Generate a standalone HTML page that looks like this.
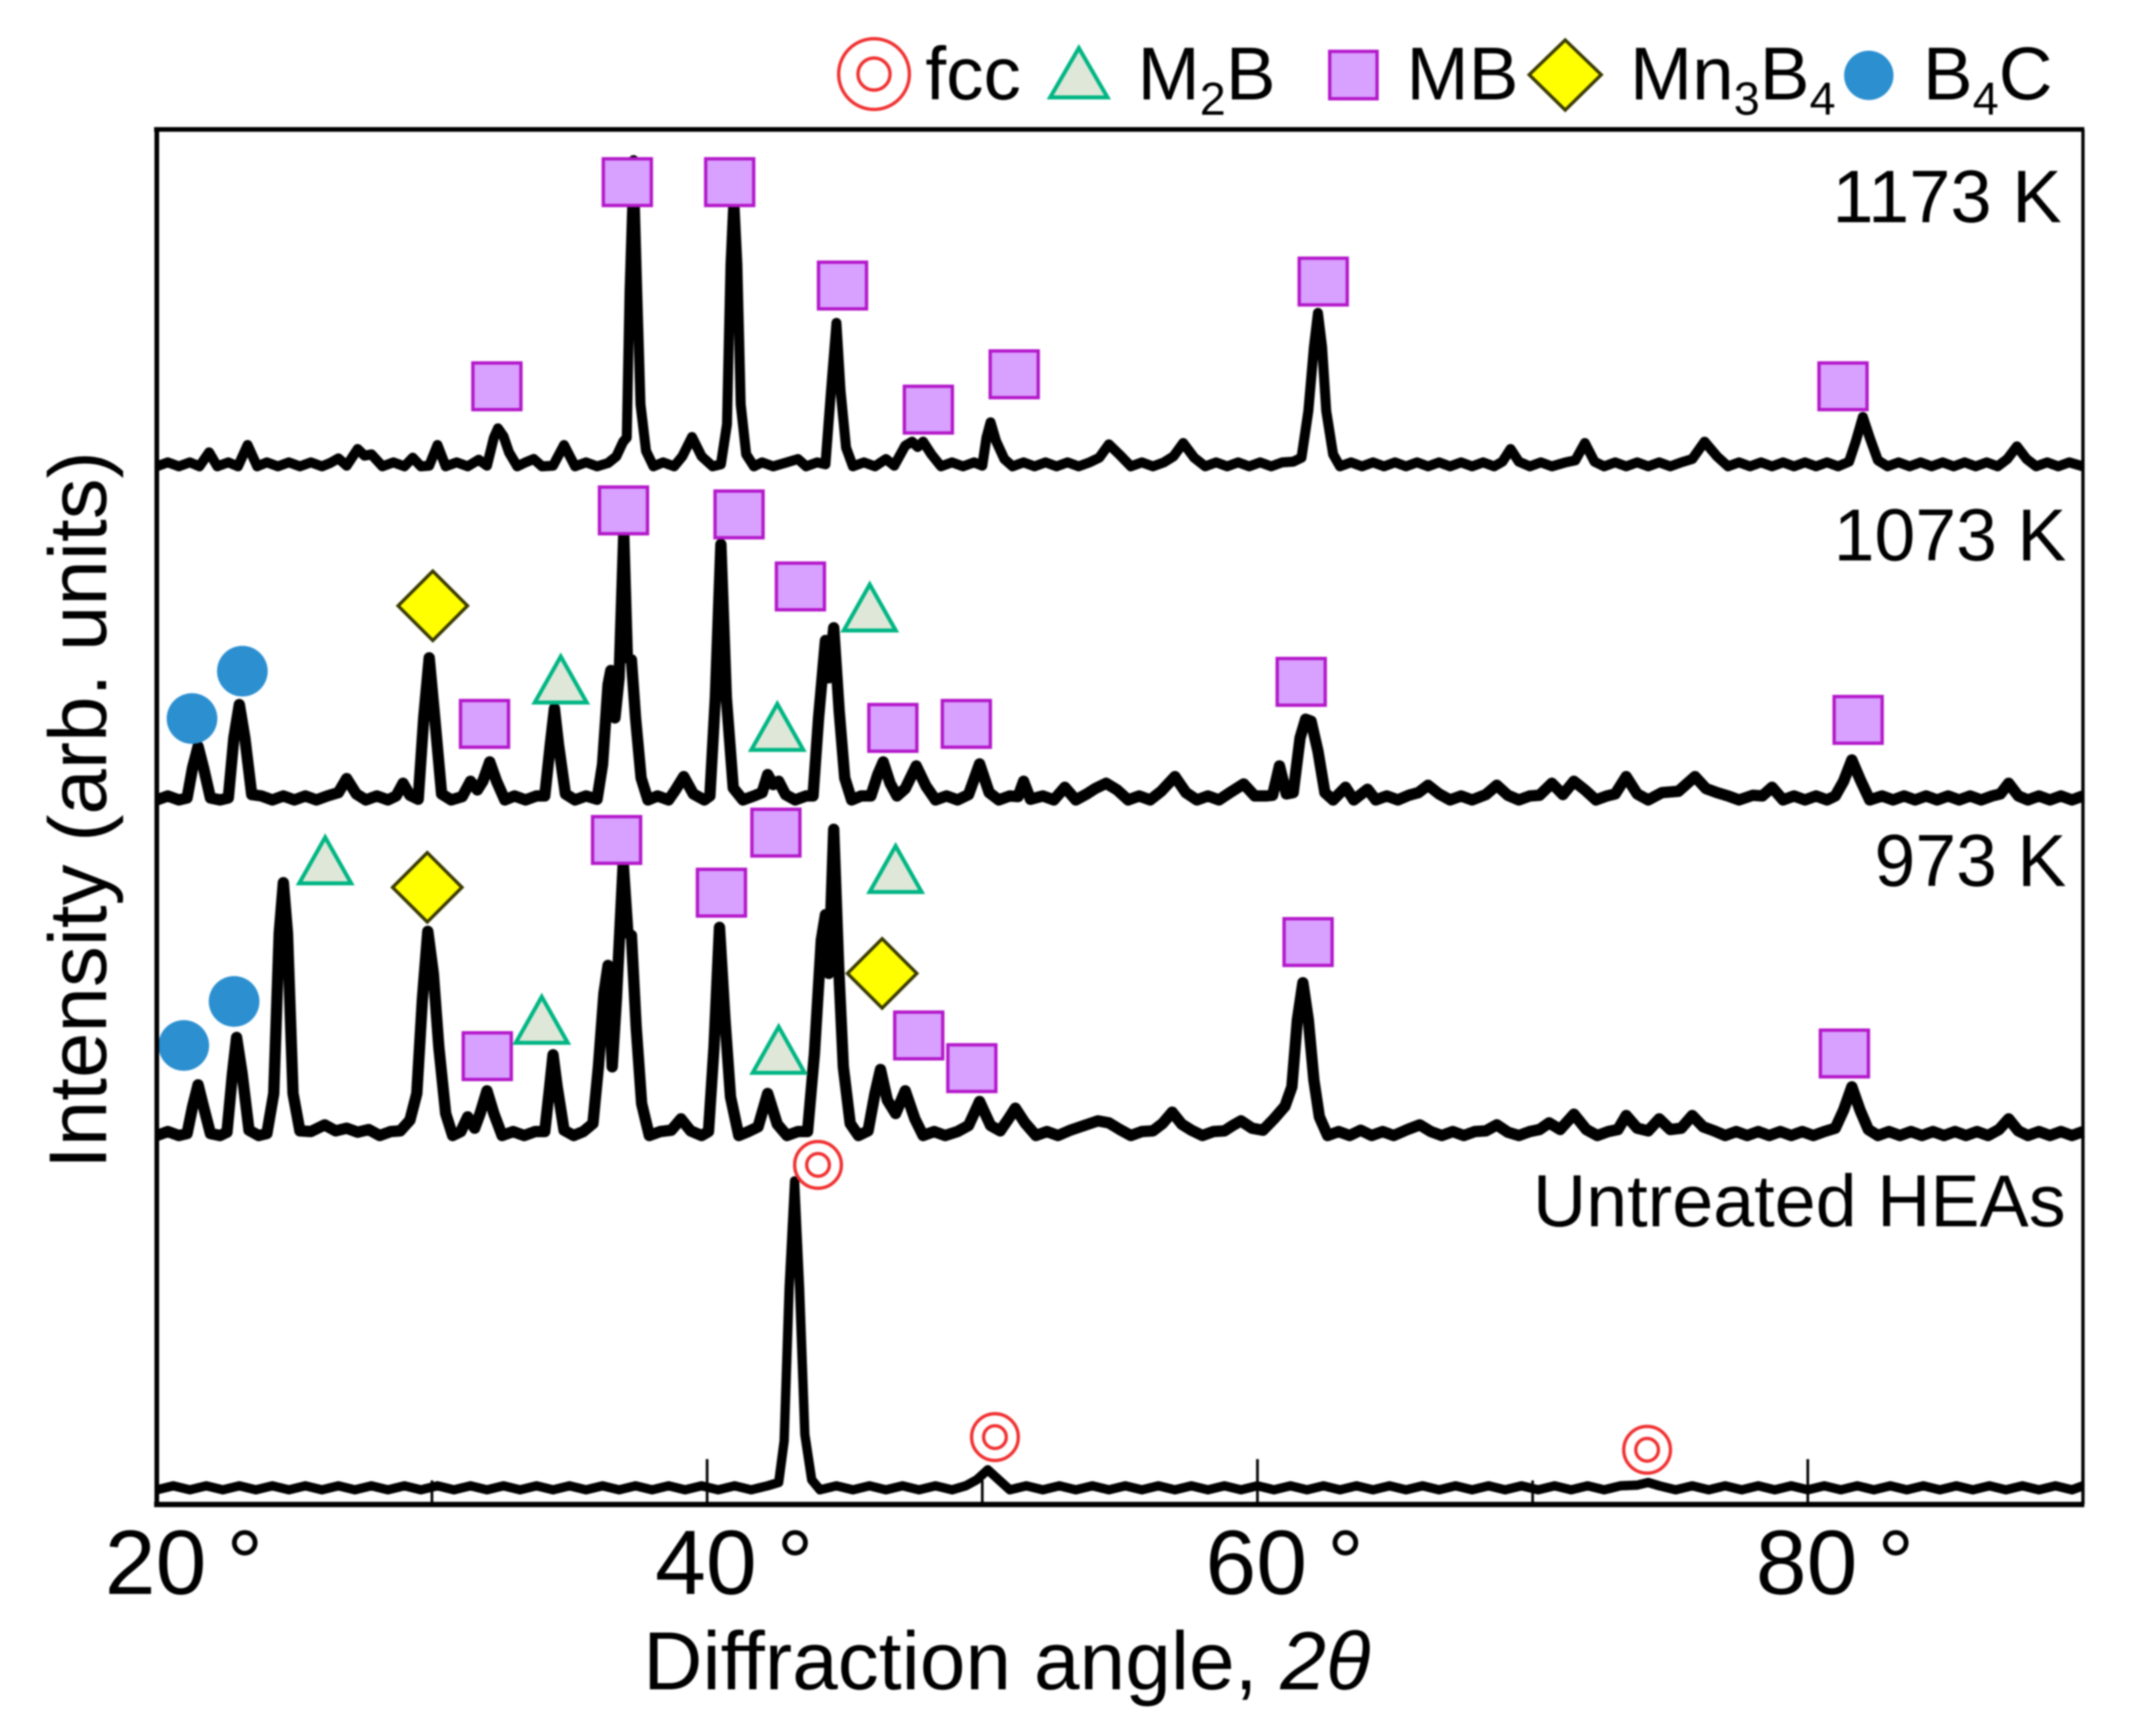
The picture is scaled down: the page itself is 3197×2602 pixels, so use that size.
<!DOCTYPE html>
<html lang="en">
<head>
<meta charset="utf-8">
<title>X-ray diffraction patterns</title>
<style>
html,body{margin:0;padding:0;background:#fff;width:3197px;height:2602px;overflow:hidden}
svg{display:block;filter:blur(1.3px)}
text{font-family:"Liberation Sans",sans-serif;fill:#000}
</style>
</head>
<body>
<svg id="chart" xmlns="http://www.w3.org/2000/svg" width="3197" height="2602" viewBox="0 0 3197 2602">
  <rect x="0" y="0" width="3197" height="2602" fill="#fff"/>

  <g id="marks"></g>
  <g id="axes"></g>

  <g>
    <g>
      <circle cx="1310" cy="111" r="53" fill="#fff" stroke="#f03030" stroke-width="5"/>
      <circle cx="1310" cy="111" r="24" fill="#fff" stroke="#f03030" stroke-width="5"/>
      <text x="1387" y="149" font-size="112">fcc</text>
    </g>
    <g>
      <polygon points="1617,72 1660,146 1574,146" fill="#dfe8d8" stroke="#00b583" stroke-width="6"/>
      <text x="1705" y="149" font-size="112">M<tspan font-size="70" dy="23">2</tspan><tspan dy="-23">B</tspan></text>
    </g>
    <g>
      <rect x="1993" y="77" width="71" height="71" fill="#d8a0ff" stroke="#b317c9" stroke-width="5"/>
      <text x="2108" y="149" font-size="112">MB</text>
    </g>
    <g>
      <polygon points="2346,60 2400,112 2346,165 2292,112" fill="#ffff00" stroke="#3a3a00" stroke-width="5"/>
      <text x="2443" y="149" font-size="112">Mn<tspan font-size="70" dy="23">3</tspan><tspan dy="-23">B</tspan><tspan font-size="70" dy="23">4</tspan></text>
    </g>
    <g>
      <circle cx="2801" cy="113" r="37" fill="#2b8fd0"/>
      <text x="2882" y="149" font-size="112">B<tspan font-size="70" dy="23">4</tspan><tspan dy="-23">C</tspan></text>
    </g>
  </g>

  <text x="3090" y="333" font-size="111" text-anchor="end">1173 K</text>
  <text x="3097" y="840" font-size="110" text-anchor="end">1073 K</text>
  <text x="3097" y="1328" font-size="110" text-anchor="end">973 K</text>
  <text x="3096" y="1838" font-size="110.5" text-anchor="end">Untreated HEAs</text>

  <text x="964" y="2532" font-size="123">Diffraction angle, <tspan font-style="italic">2θ</tspan></text>
  <text transform="translate(159,1752) rotate(-90)" font-size="122.5">Intensity (arb. units)</text>
</svg>

<script>
// ---------- chart data: [2θ in degrees, intensity in arbitrary units above the pattern's baseline] ----------
const pattern1173K = [[20,-3],[20.4,3],[20.8,-3],[21.2,3],[21.55,-3],[21.9,18],[22.2,-3],[22.6,3],[22.95,-3],[23.3,29],[23.65,-3],[24,3],[24.4,-3],[24.8,3],[25.2,-3],[25.6,3],[26,-3],[26.3,2],[26.6,9],[26.9,-2],[27.3,23],[27.55,13],[27.8,15],[28.2,-3],[28.6,3],[29,-3],[29.3,10],[29.6,-3],[29.9,-2],[30.2,29],[30.5,-3],[30.9,3],[31.3,-3],[31.7,7],[32,-2],[32.25,40],[32.4,54],[32.6,42],[32.8,18],[33.1,-3],[33.4,3],[33.7,8],[34,-3],[34.4,-2],[34.8,29],[35.2,-3],[35.6,3],[36,-3],[36.4,2],[36.7,12],[36.95,34],[37.08,40],[37.18,260],[37.33,456],[37.46,260],[37.58,90],[37.78,20],[38.05,-3],[38.4,3],[38.8,-3],[39.1,12],[39.45,41],[39.8,12],[40.2,-3],[40.5,0],[40.72,60],[40.85,300],[40.97,410],[41.1,300],[41.22,90],[41.42,15],[41.7,-3],[42,3],[42.4,-3],[42.9,3],[43.3,8],[43.6,-3],[44,3],[44.3,0],[44.5,110],[44.7,212],[44.85,110],[45.05,25],[45.3,-3],[45.7,3],[46.1,-3],[46.5,8],[46.8,-2],[47.2,28],[47.45,34],[47.65,26],[47.85,34],[48.15,15],[48.5,-3],[48.9,3],[49.3,-3],[49.7,3],[50,-2],[50.15,40],[50.3,63],[50.5,35],[50.8,8],[51.1,-3],[51.5,3],[51.9,-3],[52.3,3],[52.7,-3],[53.1,3],[53.5,-3],[53.9,3],[54.25,10],[54.6,30],[55,14],[55.4,-3],[55.8,3],[56.2,-3],[56.6,3],[56.95,12],[57.3,32],[57.7,10],[58.1,-3],[58.5,3],[58.9,-3],[59.3,3],[59.7,-3],[60.1,3],[60.5,-3],[60.9,3],[61.3,4],[61.6,10],[61.85,80],[62.05,176],[62.2,227],[62.35,176],[62.5,80],[62.75,15],[63,-3],[63.4,3],[63.8,-3],[64.2,3],[64.6,-3],[65,3],[65.4,-3],[65.8,3],[66.2,-3],[66.6,3],[67,-3],[67.4,3],[67.8,-3],[68.2,3],[68.6,-3],[68.9,4],[69.2,23],[69.5,4],[69.9,-3],[70.3,3],[70.7,-3],[71.2,3],[71.55,6],[71.9,32],[72.25,4],[72.6,-3],[73,3],[73.4,-3],[73.8,3],[74.2,-3],[74.6,3],[75,-3],[75.4,3],[75.8,8],[76.25,34],[76.7,12],[77.1,-3],[77.5,3],[77.9,-3],[78.3,3],[78.7,-3],[79.1,3],[79.5,-3],[79.9,3],[80.3,-3],[80.7,3],[81.1,-3],[81.5,4],[81.75,35],[82,71],[82.25,40],[82.55,6],[82.9,-3],[83.3,3],[83.7,-3],[84.1,3],[84.5,-3],[84.9,3],[85.3,-3],[85.7,3],[86.1,-3],[86.5,3],[86.9,-3],[87.25,8],[87.6,27],[87.95,8],[88.3,-3],[88.7,3],[89.1,-3],[89.5,3],[90,-3]];

const pattern1073K = [[20,-3],[20.4,3],[20.8,-3],[21.1,0],[21.3,45],[21.5,77],[21.7,45],[21.95,0],[22.3,-3],[22.6,0],[22.8,90],[23,140],[23.2,90],[23.45,5],[23.8,3],[24.2,-3],[24.6,3],[25,-3],[25.4,3],[25.8,-3],[26.2,3],[26.6,8],[26.9,29],[27.25,6],[27.6,-3],[28,3],[28.4,-3],[28.7,3],[28.95,22],[29.2,4],[29.5,-2],[29.7,120],[29.9,210],[30.1,120],[30.35,6],[30.7,-3],[31.1,2],[31.4,25],[31.65,12],[31.85,25],[32.1,54],[32.35,25],[32.65,-3],[33,3],[33.4,-3],[33.8,3],[34.1,3],[34.3,80],[34.45,134],[34.6,80],[34.85,6],[35.2,-3],[35.6,3],[36,-2],[36.2,50],[36.4,170],[36.5,191],[36.65,120],[36.8,180],[36.97,395],[37.1,210],[37.25,207],[37.4,120],[37.6,30],[37.85,-3],[38.2,3],[38.6,-3],[38.85,12],[39.15,32],[39.5,6],[39.9,-3],[40.1,3],[40.3,150],[40.5,380],[40.7,150],[40.95,15],[41.3,-3],[41.7,3],[42,8],[42.2,35],[42.4,20],[42.6,25],[42.85,5],[43.2,-3],[43.6,3],[43.85,3],[44.05,120],[44.3,236],[44.42,180],[44.6,255],[44.8,130],[45,30],[45.25,-3],[45.6,3],[45.95,3],[46.2,35],[46.4,54],[46.65,22],[46.9,3],[47.2,14],[47.6,48],[47.95,18],[48.3,-3],[48.7,3],[49.1,-3],[49.5,5],[49.9,51],[50.25,8],[50.6,-3],[51,3],[51.3,2],[51.5,25],[51.75,-2],[52.2,3],[52.6,-3],[53,16],[53.4,-3],[53.8,6],[54.1,14],[54.5,22],[54.9,12],[55.3,-3],[55.7,3],[56.1,-3],[56.5,10],[57,32],[57.4,8],[57.8,-3],[58.2,3],[58.6,-3],[59,8],[59.5,21],[59.9,3],[60.3,3],[60.55,4],[60.8,48],[61.05,6],[61.3,8],[61.55,90],[61.75,118],[61.95,115],[62.2,70],[62.45,8],[62.75,-3],[63.2,16],[63.5,-3],[64,13],[64.3,-3],[64.7,3],[65.1,-3],[65.5,4],[65.85,8],[66.2,19],[66.6,6],[67,-3],[67.4,3],[67.8,-3],[68.3,5],[68.7,19],[69.1,4],[69.5,-3],[69.9,3],[70.25,4],[70.7,22],[71.1,5],[71.5,25],[71.9,12],[72.3,-3],[72.7,3],[73,6],[73.4,32],[73.8,6],[74.2,-3],[74.7,8],[75.3,10],[75.9,32],[76.3,14],[76.7,8],[77.1,3],[77.5,-3],[78,4],[78.35,3],[78.7,16],[79.1,-3],[79.5,3],[79.9,-3],[80.3,3],[80.7,-3],[81,3],[81.3,25],[81.6,57],[81.9,28],[82.25,-3],[82.7,3],[83.1,-3],[83.5,3],[83.9,-3],[84.3,3],[84.7,-3],[85.1,3],[85.5,-3],[85.9,3],[86.3,-3],[86.7,3],[87,6],[87.3,22],[87.65,3],[88,-3],[88.4,3],[88.8,-3],[89.2,3],[89.6,-3],[90,3]];

const pattern973K = [[20,-3],[20.4,3],[20.8,-3],[21.1,0],[21.3,40],[21.5,73],[21.7,40],[21.95,0],[22.3,-3],[22.55,2],[22.75,90],[22.9,144],[23.1,90],[23.35,5],[23.7,-3],[24,0],[24.25,60],[24.45,300],[24.6,376],[24.75,300],[24.95,60],[25.2,4],[25.6,3],[26.1,13],[26.5,4],[26.9,8],[27.3,2],[27.7,6],[28.1,-3],[28.5,3],[28.85,4],[29.2,20],[29.45,60],[29.65,200],[29.85,303],[30.05,240],[30.25,130],[30.5,30],[30.75,-3],[31.05,3],[31.3,25],[31.55,8],[31.75,30],[32,64],[32.25,30],[32.55,-3],[32.95,3],[33.35,-3],[33.75,3],[34.1,3],[34.28,70],[34.4,118],[34.55,70],[34.8,5],[35.15,-3],[35.5,3],[35.85,15],[36.05,100],[36.25,210],[36.4,252],[36.55,100],[36.7,200],[36.95,405],[37.12,300],[37.25,297],[37.42,160],[37.62,45],[37.9,-3],[38.3,3],[38.7,5],[39.05,22],[39.4,4],[39.8,-3],[40.05,3],[40.25,130],[40.45,309],[40.65,170],[40.85,55],[41.15,-3],[41.5,3],[41.85,10],[42.2,60],[42.55,14],[42.9,-3],[43.3,3],[43.65,3],[43.9,120],[44.15,290],[44.3,328],[44.42,240],[44.6,456],[44.78,250],[44.95,100],[45.2,15],[45.5,-3],[45.85,4],[46.1,60],[46.3,96],[46.55,50],[46.85,30],[47.2,64],[47.55,22],[47.85,-3],[48.25,3],[48.65,-3],[49.1,3],[49.5,12],[49.9,48],[50.3,12],[50.65,4],[50.95,22],[51.2,38],[51.55,16],[51.95,-3],[52.35,3],[52.75,-3],[53.2,5],[53.7,12],[54.2,19],[54.6,16],[55,6],[55.4,-3],[55.8,3],[56.2,4],[56.55,15],[56.9,32],[57.25,14],[57.6,5],[58,-3],[58.4,3],[58.8,4],[59.1,12],[59.4,19],[59.8,8],[60.2,5],[60.6,22],[61,41],[61.25,70],[61.45,170],[61.65,226],[61.85,170],[62.05,80],[62.25,25],[62.55,-3],[62.95,3],[63.35,-3],[63.75,5],[64.15,-3],[64.55,3],[64.95,-3],[65.45,6],[65.9,13],[66.3,3],[66.7,-3],[67.1,3],[67.5,-3],[67.9,3],[68.3,4],[68.7,13],[69.1,2],[69.5,-3],[69.9,3],[70.25,6],[70.6,16],[71,6],[71.5,29],[71.95,6],[72.35,-3],[72.75,3],[73.1,6],[73.4,27],[73.8,8],[74.2,4],[74.6,22],[75,6],[75.4,8],[75.8,27],[76.2,10],[76.6,4],[77,-3],[77.4,3],[77.8,-3],[78.2,3],[78.6,-3],[79,3],[79.4,-3],[79.8,3],[80.2,-3],[80.6,3],[81,8],[81.3,35],[81.6,70],[81.9,35],[82.2,6],[82.55,-3],[82.95,3],[83.35,-3],[83.75,3],[84.15,-3],[84.55,3],[84.95,-3],[85.35,3],[85.75,-3],[86.15,3],[86.55,-3],[86.95,6],[87.3,22],[87.65,4],[88,-3],[88.4,3],[88.8,-3],[89.2,3],[89.6,-3],[90,3]];

const patternUntreated = [[20,-3],[20.6,3],[21.2,-3],[21.8,3],[22.4,-3],[23,3],[23.6,-3],[24.2,3],[24.8,-3],[25.4,3],[26,-3],[26.6,3],[27.2,-3],[27.8,3],[28.4,-3],[29,3],[29.6,-3],[30.2,3],[30.8,-3],[31.4,3],[32,-3],[32.6,3],[33.2,-3],[33.8,3],[34.4,-3],[35,3],[35.6,-3],[36.2,3],[36.8,-3],[37.4,3],[38,-3],[38.6,3],[39.2,-3],[39.8,3],[40.4,-3],[41,3],[41.6,-3],[42.2,3],[42.6,8],[42.8,70],[42.98,300],[43.18,460],[43.36,300],[43.55,80],[43.8,12],[44.1,-3],[44.7,3],[45.3,-3],[45.9,3],[46.5,-3],[47.1,3],[47.7,-3],[48.3,3],[48.9,-3],[49.4,3],[49.8,12],[50.2,27],[50.6,12],[51,-3],[51.6,3],[52.2,-3],[52.8,3],[53.4,-3],[54,3],[54.6,-3],[55.2,3],[55.8,-3],[56.4,3],[57,-3],[57.6,3],[58.2,-3],[58.8,3],[59.4,-3],[60,3],[60.6,-3],[61.2,3],[61.8,-3],[62.4,3],[63,-3],[63.6,3],[64.2,-3],[64.8,3],[65.4,-3],[66,3],[66.6,-3],[67.2,3],[67.8,-3],[68.4,3],[69,-3],[69.6,3],[70.2,-3],[70.8,3],[71.4,-3],[72,3],[72.6,-3],[73.2,3],[73.8,4],[74.2,8],[74.6,3],[75.2,-3],[75.8,3],[76.4,-3],[77,3],[77.6,-3],[78.2,3],[78.8,-3],[79.4,3],[80,-3],[80.6,3],[81.2,-3],[81.8,3],[82.4,-3],[83,3],[83.6,-3],[84.2,3],[84.8,-3],[85.4,3],[86,-3],[86.6,3],[87.2,-3],[87.8,3],[88.4,-3],[89,3],[89.6,-3],[90,3]];

// ---------- phase markers: [2θ, height above the pattern's baseline] ----------
const mbMarkers1173K = [[37.10,423],[40.82,423],[44.92,268],[32.36,117],[48.04,82],[51.16,135],[62.39,274],[81.28,117]];
const mbMarkers1073K = [[36.96,429],[41.16,423],[43.39,315],[31.91,109],[46.75,103],[49.42,109],[61.59,172],[81.83,115]];
const m2bMarkers1073K = [[45.91,282],[34.68,174],[42.55,103]];
const mn3b4Markers1073K = [[30.03,286]];
const b4cMarkers1073K = [[21.28,117],[23.11,188]];
const mbMarkers973K = [[36.71,439],[42.50,450],[40.52,360],[32.01,115],[47.69,146],[49.62,97],[61.84,286],[81.33,119]];
const m2bMarkers973K = [[26.12,407],[46.85,394],[33.99,168],[42.60,123]];
const mn3b4Markers973K = [[29.83,368],[46.36,239]];
const b4cMarkers973K = [[20.98,131],[22.81,197]];
const fccMarkersUntreated = [[44.03,483],[50.46,75],[74.16,56]];

// ---------- axis values ----------
const xMajorTicks = [40,60,80];
const xMinorTicks = [30,50,70];
const xLabelTicks = [20,40,60,80];
const xTickLabels = ['20 °','40 °','60 °','80 °'];

// ---------- axis functions ----------
const PLOT = {left:235,right:3122,top:194,bottom:2255};
const X_MIN = 20, X_MAX = 90;
function xScale(v){ return PLOT.left + (v - X_MIN) * (PLOT.right - PLOT.left) / (X_MAX - X_MIN); }
function yScale(baseline, v){ return baseline - v; }

const SVGNS = 'http://www.w3.org/2000/svg';
const marks = document.getElementById('marks');
const axes = document.getElementById('axes');
function make(tag, attrs, parent){
  const el = document.createElementNS(SVGNS, tag);
  for (const k in attrs) el.setAttribute(k, attrs[k]);
  parent.appendChild(el);
  return el;
}

// ---------- series lines ----------
function drawPattern(points, baseline, width, name){
  const d = points.map(function(p, i){
    return (i ? 'L' : 'M') + xScale(p[0]).toFixed(1) + ' ' + yScale(baseline, p[1]).toFixed(1);
  }).join('');
  const el = make('path', {d:d, fill:'none', stroke:'#000', 'stroke-width':width, 'stroke-linejoin':'round', 'stroke-linecap':'butt'}, marks);
  
  
}
drawPattern(pattern1173K, 696, 15, 'pattern-line-1173k');
drawPattern(pattern1073K, 1196, 17, 'pattern-line-1073k');
drawPattern(pattern973K, 1699, 17, 'pattern-line-973k');
drawPattern(patternUntreated, 2230, 14, 'pattern-line-untreated');

// ---------- markers ----------
function drawSquares(points, baseline, name){
  points.forEach(function(p){
    const cx = xScale(p[0]), cy = yScale(baseline, p[1]);
    const el = make('rect', {x:cx-36, y:cy-35, width:72, height:70, fill:'#d8a0ff', stroke:'#b317c9', 'stroke-width':5}, marks);
    
    
  });
}
function drawTriangles(points, baseline, name){
  points.forEach(function(p){
    const cx = xScale(p[0]), cy = yScale(baseline, p[1]);
    const pts = cx + ',' + (cy-36) + ' ' + (cx+39) + ',' + (cy+33) + ' ' + (cx-39) + ',' + (cy+33);
    const el = make('polygon', {points:pts, fill:'#dfe8d8', stroke:'#00b583', 'stroke-width':6}, marks);
    
    
  });
}
function drawDiamonds(points, baseline, name){
  points.forEach(function(p){
    const cx = xScale(p[0]), cy = yScale(baseline, p[1]);
    const pts = cx + ',' + (cy-52) + ' ' + (cx+52) + ',' + cy + ' ' + cx + ',' + (cy+52) + ' ' + (cx-52) + ',' + cy;
    const el = make('polygon', {points:pts, fill:'#ffff00', stroke:'#3a3a00', 'stroke-width':5}, marks);
    
    
  });
}
function drawCircles(points, baseline, name){
  points.forEach(function(p){
    const el = make('circle', {cx:xScale(p[0]), cy:yScale(baseline, p[1]), r:38, fill:'#2b8fd0'}, marks);
    
    
  });
}
function drawRings(points, baseline, name){
  points.forEach(function(p){
    const cx = xScale(p[0]), cy = yScale(baseline, p[1]);
    const outer = make('circle', {cx:cx, cy:cy, r:35, fill:'#fff', stroke:'#f03030', 'stroke-width':5}, marks);
    
    
    const inner = make('circle', {cx:cx, cy:cy, r:17, fill:'#fff', stroke:'#f03030', 'stroke-width':5}, marks);
    
    
  });
}
drawSquares(mbMarkers1173K, 696, 'mb-marker-1173k');
drawSquares(mbMarkers1073K, 1194, 'mb-marker-1073k');
drawTriangles(m2bMarkers1073K, 1194, 'm2b-marker-1073k');
drawDiamonds(mn3b4Markers1073K, 1194, 'mn3b4-marker-1073k');
drawCircles(b4cMarkers1073K, 1194, 'b4c-marker-1073k');
drawSquares(mbMarkers973K, 1698, 'mb-marker-973k');
drawTriangles(m2bMarkers973K, 1698, 'm2b-marker-973k');
drawDiamonds(mn3b4Markers973K, 1698, 'mn3b4-marker-973k');
drawCircles(b4cMarkers973K, 1698, 'b4c-marker-973k');
drawRings(fccMarkersUntreated, 2229, 'fcc-marker-untreated');

// ---------- frame, ticks, tick labels ----------
function drawLine(x1, y1, x2, y2, w, name){
  const el = make('line', {x1:x1, y1:y1, x2:x2, y2:y2, stroke:'#000', 'stroke-width':w}, axes);
  
  
}
drawLine(PLOT.left-4, PLOT.top, PLOT.right+2, PLOT.top, 7, 'frame-top');
drawLine(PLOT.left-4, PLOT.bottom, PLOT.right+2, PLOT.bottom, 8, 'frame-bottom');
drawLine(PLOT.left, PLOT.top, PLOT.left, PLOT.bottom, 7, 'frame-left');
drawLine(PLOT.right, PLOT.top, PLOT.right, PLOT.bottom, 5, 'frame-right');
xMajorTicks.forEach(function(v){
  drawLine(xScale(v), PLOT.bottom, xScale(v), PLOT.bottom-68, 4, 'x-major-tick');
});
xMinorTicks.forEach(function(v){
  drawLine(xScale(v), PLOT.bottom, xScale(v), PLOT.bottom-36, 4, 'x-minor-tick');
});
xLabelTicks.forEach(function(v, i){
  const t = make('text', {x:xScale(v)-78, y:2389, 'font-size':137, 'word-spacing':-8}, axes);
  
  
  t.textContent = xTickLabels[i];
});
</script>
</body>
</html>
